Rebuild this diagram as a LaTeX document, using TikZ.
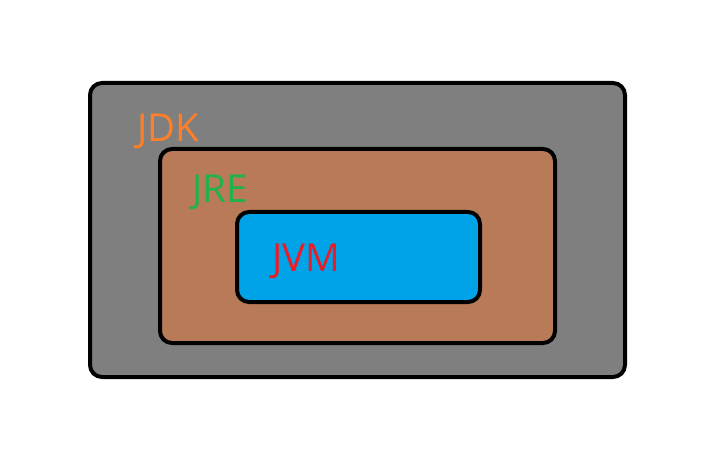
\documentclass[tikz,border=0pt]{standalone}
\usepackage{fontspec}
\setmainfont{Open Sans}
\definecolor{jdkgray}{HTML}{7F7F7F}
\definecolor{jrebrown}{HTML}{B97A57}
\definecolor{jvmblue}{HTML}{00A2E8}
\definecolor{txorange}{HTML}{FF7F27}
\definecolor{txgreen}{HTML}{22B14C}
\definecolor{txred}{HTML}{ED1C24}
\begin{document}
\begin{tikzpicture}[x=1pt,y=-1pt,
  box/.style={draw=black,line width=4pt,rounded corners=12pt},
  lbl/.style={anchor=base west,inner sep=0pt,font=\fontsize{38.5}{44}\selectfont}]
\useasboundingbox (0,0) rectangle (725,462);
\fill[white] (0,0) rectangle (725,462);
\draw[box,fill=jdkgray] (90,83) rectangle (625,377);
\draw[box,fill=jrebrown] (160,149) rectangle (555,343);
\draw[box,fill=jvmblue] (237,212) rectangle (480,302);
\node[lbl,text=txorange] (jdk) at (137,142) {JDK};
\node[lbl,text=txgreen] (jre) at (192,203) {JRE};
\node[lbl,text=txred] (jvm) at (272,272) {JVM};
\end{tikzpicture}
\end{document}
